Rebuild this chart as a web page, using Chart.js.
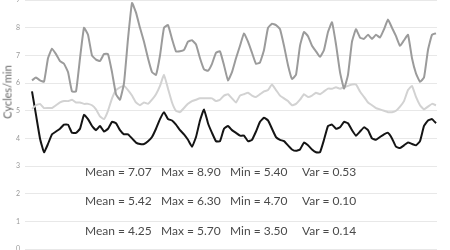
<!DOCTYPE html>
<html>
<head>
<meta charset="utf-8">
<script src="https://cdn.jsdelivr.net/npm/chart.js@4/dist/chart.umd.min.js"></script>
<style>
  html, body { margin: 0; padding: 0; background: #fff; }
  body { width: 450px; height: 250px; position: relative; overflow: hidden; font-family: Lato, "Open Sans", sans-serif; }
  #wrap { position: absolute; left: 0; top: -9px; width: 450px; height: 268px; }
  #ytitle { position: absolute; left: 0; top: 92px; font-size: 11px; color: #666; transform: translate(-50%, -50%) rotate(-90deg); transform-origin: center; white-space: nowrap; margin-left: 7px; }
  .stat { position: absolute; font-size: 12px; color: #4a4a4a; white-space: nowrap; line-height: 12px; }
</style>
</head>
<body>
<div id="wrap"><canvas id="chart"></canvas></div>
<div id="ytitle">Cycles/min</div>
<div id="stats"></div>
<script>
// Data (one sample every few seconds)
const topSeries = [
  6.1, 6.2, 6.1, 6.05, 6.9, 7.25, 7.05, 6.8, 6.7, 6.4,
  5.7, 5.7, 6.9, 8.0, 7.75, 7.0, 6.85, 6.8, 7.05, 7.05,
  6.4, 5.6, 5.4, 6.0, 7.6, 8.9, 8.55, 8.0, 7.5, 6.9,
  6.4, 6.3, 7.0, 8.0, 8.1, 7.6, 7.15, 7.15, 7.2, 7.5,
  7.55, 7.4, 6.9, 6.5, 6.45, 6.7, 7.1, 7.15, 6.65, 6.1,
  6.4, 6.9, 7.35, 7.8, 7.5, 7.1, 6.7, 6.75, 7.2, 8.0,
  8.15, 8.1, 7.95, 7.35, 6.65, 6.15, 6.3, 7.35, 7.85, 7.7,
  7.35, 7.15, 6.95, 7.2, 7.85, 8.2, 7.4, 6.4, 5.8, 6.3,
  7.5, 7.95, 7.65, 7.6, 7.75, 7.6, 7.75, 7.65, 7.95, 8.3,
  8.0, 7.7, 7.35, 7.55, 7.75, 6.9, 6.35, 6.05, 6.2, 7.2,
  7.75, 7.8
];
const midSeries = [
  5.07, 5.2, 5.25, 5.1, 5.1, 5.1, 5.2, 5.3, 5.35, 5.35,
  5.4, 5.3, 5.3, 5.25, 5.25, 5.2, 5.05, 4.8, 4.7, 5.0,
  5.45, 5.75, 5.85, 5.9, 5.75, 5.55, 5.3, 5.2, 5.3, 5.25,
  5.4, 5.6, 5.9, 6.3, 5.8, 5.3, 5.0, 4.95, 5.1, 5.25,
  5.35, 5.4, 5.45, 5.45, 5.45, 5.45, 5.35, 5.4, 5.55, 5.6,
  5.45, 5.3, 5.55, 5.6, 5.65, 5.55, 5.5, 5.6, 5.7, 5.75,
  5.95, 5.75, 5.55, 5.45, 5.35, 5.2, 5.25, 5.4, 5.6, 5.5,
  5.55, 5.65, 5.6, 5.7, 5.8, 5.8, 5.85, 5.8, 5.85, 5.9,
  5.95, 5.95, 5.7, 5.5, 5.3, 5.2, 5.1, 5.05, 5.0, 4.95,
  4.95, 5.0, 5.15, 5.35, 5.75, 5.9, 5.5, 5.2, 5.05, 5.15,
  5.25, 5.2
];
const lowSeries = [
  5.7, 4.85, 4.0, 3.5, 3.8, 4.15, 4.25, 4.35, 4.5, 4.5,
  4.2, 4.2, 4.35, 4.85, 4.7, 4.45, 4.3, 4.45, 4.25, 4.35,
  4.6, 4.55, 4.3, 4.15, 4.15, 4.0, 3.85, 3.8, 3.8, 3.9,
  4.05, 4.35, 4.7, 4.95, 4.7, 4.65, 4.5, 4.3, 4.15, 3.95,
  3.7, 4.05, 4.65, 5.05, 4.55, 4.2, 3.9, 3.9, 4.35, 4.45,
  4.3, 4.2, 4.1, 4.1, 3.9, 3.95, 4.25, 4.6, 4.75, 4.65,
  4.35, 4.05, 3.95, 3.9, 3.75, 3.6, 3.55, 3.6, 3.85, 3.75,
  3.6, 3.5, 3.5, 3.95, 4.45, 4.5, 4.35, 4.4, 4.6, 4.55,
  4.3, 4.1, 4.25, 4.4, 4.3, 4.0, 3.95, 4.05, 4.15, 4.2,
  4.0, 3.7, 3.65, 3.75, 3.85, 3.8, 3.75, 3.9, 4.45, 4.65,
  4.7, 4.55
];
const yTicks = [0, 1, 2, 3, 4, 5, 6, 7, 8, 9];

// Summary rows, top series first
const statLabels = ['Mean', 'Max', 'Min', 'Var'];
const statRows = [
  ['7.07', '8.90', '5.40', '0.53'],
  ['5.42', '6.30', '4.70', '0.10'],
  ['4.25', '5.70', '3.50', '0.14']
];

function toPoints(arr) {
  return arr.map((v, i) => ({ x: i, y: v }));
}

// Stats text
const statsEl = document.getElementById('stats');
const colX = [85, 161, 230, 302];
const rowY = [166, 195, 225];
statRows.forEach((row, r) => {
  row.forEach((val, c) => {
    const s = document.createElement('div');
    s.className = 'stat';
    s.style.left = colX[c] + 'px';
    s.style.top = rowY[r] + 'px';
    s.textContent = `${statLabels[c]} = ${val}`;
    statsEl.appendChild(s);
  });
});

const ctx = document.getElementById('chart').getContext('2d');
new Chart(ctx, {
  type: 'line',
  data: {
    datasets: [
      {
        label: 'Series 1',
        data: toPoints(topSeries),
        borderColor: '#9b9b9b',
        borderWidth: 2,
        pointRadius: 0,
        tension: 0.12
      },
      {
        label: 'Series 2',
        data: toPoints(midSeries),
        borderColor: '#d2d2d2',
        borderWidth: 2,
        pointRadius: 0,
        tension: 0.12
      },
      {
        label: 'Series 3',
        data: toPoints(lowSeries),
        borderColor: '#141414',
        borderWidth: 2,
        pointRadius: 0,
        tension: 0.12
      }
    ]
  },
  options: {
    responsive: true,
    maintainAspectRatio: false,
    animation: false,
    layout: { padding: { left: 0, right: 13, top: 0, bottom: 10 } },
    plugins: { legend: { display: false }, tooltip: { enabled: false } },
    scales: {
      x: {
        type: 'linear',
        display: false,
        min: -1.75,
        max: 101.25
      },
      y: {
        min: 0,
        max: 9,
        afterBuildTicks: (scale) => { scale.ticks = yTicks.map(v => ({ value: v })); },
        afterFit: (scale) => { scale.width = 25; },
        border: { display: false },
        grid: { color: '#e8e8e8', drawTicks: false, lineWidth: 1 },
        ticks: { color: '#999', font: { size: 7, family: 'Lato' }, padding: 5 }
      }
    }
  }
});
</script>
</body>
</html>
